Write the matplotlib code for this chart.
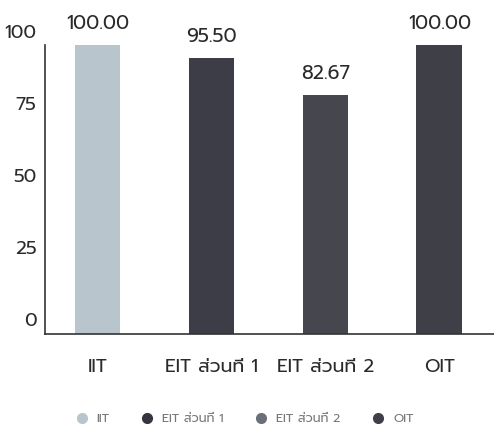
import matplotlib
matplotlib.use("Agg")
import matplotlib.pyplot as plt
from matplotlib.transforms import ScaledTranslation
from matplotlib.lines import Line2D

categories = ["IIT", "EIT ส่วนที่ 1", "EIT ส่วนที่ 2", "OIT"]
values = [100.00, 95.50, 82.67, 100.00]
value_labels = ["100.00", "95.50", "82.67", "100.00"]
yticks = [0, 25, 50, 75, 100]

bar_colors = ["#b9c5cd", "#3d3d47", "#46464f", "#3f3f48"]
legend_colors = ["#b9c5cd", "#35353f", "#6a7078", "#3f3f4a"]

plt.rcParams['font.family'] = ['Prompt', 'DejaVu Sans']

fig = plt.figure(figsize=(4.94, 4.29), dpi=100)
ax = fig.add_axes([0.091, 0.222, 0.909, 0.673])
x = list(range(len(categories)))
ax.bar(x, values, width=0.4, color=bar_colors, zorder=2)
ax.set_xlim(-0.46, 3.48)
ax.set_ylim(0, 100)
ax.set_yticks(yticks)
ax.set_yticklabels([str(v) for v in yticks], fontsize=13.5, color="#2a2a2a")
ax.set_xticks(x)
ax.set_xticklabels(categories, fontsize=13.5, color="#2a2a2a")
ax.tick_params(axis='both', length=0)
ax.tick_params(axis='y', pad=6)
ax.tick_params(axis='x', pad=18)
for lab in ax.get_yticklabels():
    lab.set_transform(lab.get_transform() + ScaledTranslation(0, 10/72, fig.dpi_scale_trans))
for s in ['top', 'right']:
    ax.spines[s].set_visible(False)
ax.spines['left'].set_color("#333333")
ax.spines['bottom'].set_color("#333333")
ax.spines['left'].set_linewidth(1.2)
ax.spines['bottom'].set_linewidth(1.2)

for xi, v, lab in zip(x, values, value_labels):
    ax.annotate(lab, (xi, v), xytext=(0, 9), textcoords='offset points',
                ha='center', va='bottom', fontsize=14, color="#2a2a2a",
                annotation_clip=False)

handles = [Line2D([0], [0], marker='o', linestyle='none', markersize=7,
                  markerfacecolor=c, markeredgecolor=c) for c in legend_colors]
fig.legend(handles, categories, loc='center', bbox_to_anchor=(0.495, 0.023),
           ncol=4, frameon=False, fontsize=9, labelcolor="#777777",
           handlelength=1.0, handletextpad=0.7, columnspacing=2.5)

fig.savefig("out.png", dpi=100)
